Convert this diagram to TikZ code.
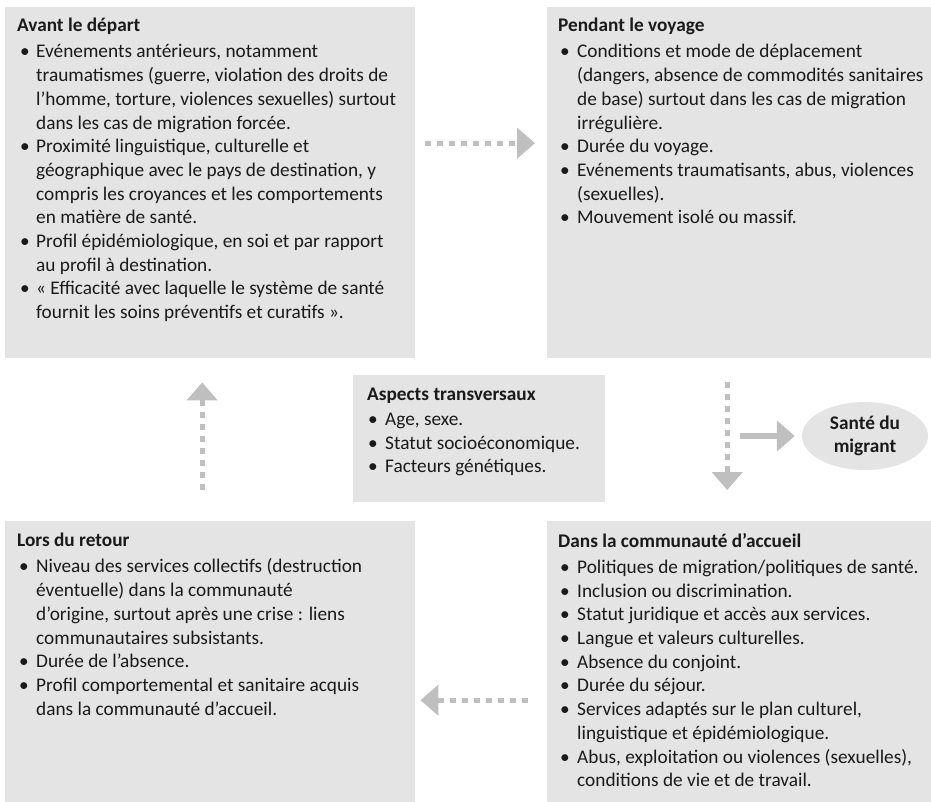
\documentclass[tikz,border=0pt]{standalone}
\usepackage{fontspec}
\setmainfont{Carlito}
\usetikzlibrary{arrows.meta,shapes.geometric}

\definecolor{boxgray}{HTML}{E4E4E4}
\definecolor{flowgray}{HTML}{BFBFBF}
\definecolor{inkgray}{HTML}{1A1A1A}

\newcommand{\puce}[2]{\makebox[#2pt][l]{\hspace*{#1pt}\textbullet}}
\newcommand{\suite}[1]{\hspace*{#1pt}}

\begin{document}
\begin{tikzpicture}[x = 1pt, y = -1pt,
        font = \fontsize{19.3}{23.7}\selectfont,
        bloc/.style = {fill = boxgray, anchor = north west, inner sep = 0pt},
        texte/.style = {anchor = north west, inner sep = 0pt, align = left, text = inkgray},
        flux/.style = {draw = flowgray, line width = 5pt, dash pattern = on 6pt off 6pt,
            -{Triangle[width = 30pt, length = 18pt]}},
        fleche/.style = {draw = flowgray, line width = 6pt,
            -{Triangle[width = 30pt, length = 18pt]}}]
        \useasboundingbox (0,0) rectangle (931,802);

        \node[bloc, minimum width = 410pt, minimum height = 351pt] (depart) at (5,7) {};
        \node[bloc, minimum width = 384pt, minimum height = 351pt] (voyage) at (547,7) {};
        \node[bloc, minimum width = 252pt, minimum height = 127pt] (aspects) at (353,375) {};
        \node[bloc, minimum width = 410pt, minimum height = 281pt] (retour) at (5,521) {};
        \node[bloc, minimum width = 384pt, minimum height = 281pt] (accueil) at (547,521) {};

        \node[texte] (depart-txt) at (17,18) {\textbf{Avant le départ}\\[2.5pt]
            \puce{3}{19}Evénements antérieurs, notamment\\
            \suite{19}traumatismes (guerre, violation des droits de\\
            \suite{19}l’homme, torture, violences sexuelles) surtout\\
            \suite{19}dans les cas de migration forcée.\\
            \puce{3}{19}Proximité linguistique, culturelle et\\
            \suite{19}géographique avec le pays de destination, y\\
            \suite{19}compris les croyances et les comportements\\
            \suite{19}en matière de santé.\\
            \puce{3}{19}Profil épidémiologique, en soi et par rapport\\
            \suite{19}au profil à destination.\\
            \puce{3}{19}« Efficacité avec laquelle le système de santé\\
            \suite{19}fournit les soins préventifs et curatifs ».};

        \node[texte] (voyage-txt) at (558,18) {\textbf{Pendant le voyage}\\[2.5pt]
            \puce{2}{19}Conditions et mode de déplacement\\
            \suite{19}(dangers, absence de commodités sanitaires\\
            \suite{19}de base) surtout dans les cas de migration\\
            \suite{19}irrégulière.\\
            \puce{2}{19}Durée du voyage.\\
            \puce{2}{19}Evénements traumatisants, abus, violences\\
            \suite{19}(sexuelles).\\
            \puce{2}{19}Mouvement isolé ou massif.};

        \node[texte] (aspects-txt) at (367,388) {\textbf{Aspects transversaux}\\[1pt]
            \puce{1}{18}Age, sexe.\\
            \puce{1}{18}Statut socioéconomique.\\
            \puce{1}{18}Facteurs génétiques.};

        \node[texte] (retour-txt) at (17,533) {\textbf{Lors du retour}\\[2.5pt]
            \puce{2}{19}Niveau des services collectifs (destruction\\
            \suite{19}éventuelle) dans la communauté\\
            \suite{19}d’origine, surtout après une crise : liens\\
            \suite{19}communautaires subsistants.\\
            \puce{2}{19}Durée de l’absence.\\
            \puce{2}{19}Profil comportemental et sanitaire acquis\\
            \suite{19}dans la communauté d’accueil.};

        \node[texte] (accueil-txt) at (558,533) {\textbf{Dans la communauté d’accueil}\\[2.5pt]
            \puce{2}{19}Politiques de migration/politiques de santé.\\
            \puce{2}{19}Inclusion ou discrimination.\\
            \puce{2}{19}Statut juridique et accès aux services.\\
            \puce{2}{19}Langue et valeurs culturelles.\\
            \puce{2}{19}Absence du conjoint.\\
            \puce{2}{19}Durée du séjour.\\
            \puce{2}{19}Services adaptés sur le plan culturel,\\
            \suite{19}linguistique et épidémiologique.\\
            \puce{2}{19}Abus, exploitation ou violences (sexuelles),\\
            \suite{19}conditions de vie et de travail.};

        \node[ellipse, fill = boxgray, minimum width = 126pt, minimum height = 68pt,
            inner sep = 0pt, align = center, text = inkgray, font = \fontsize{19.3}{23}\selectfont\bfseries]
            (sante) at (865,436) {Santé du\\migrant};
        \coordinate (sortie) at (740,436);

        \draw[flux, shorten < = 10pt, shorten > = 12pt]
            ([yshift = 39.5pt]depart.east) -- ([yshift = 39.5pt]voyage.west);
        \draw[flux, shorten < = 24pt, shorten > = 31pt]
            ([xshift = -12pt]voyage.south) -- ([xshift = -12pt]accueil.north);
        \draw[flux, shorten < = 19pt, shorten > = 5pt]
            ([yshift = -38.5pt]accueil.west) -- ([yshift = -38.5pt]retour.east);
        \draw[flux, shorten < = 31pt, shorten > = 24pt]
            ([xshift = -8pt]retour.north) -- ([xshift = -8pt]depart.south);
        \draw[fleche, shorten > = 7pt] (sortie) -- (sante.west);
    \end{tikzpicture}
\end{document}
